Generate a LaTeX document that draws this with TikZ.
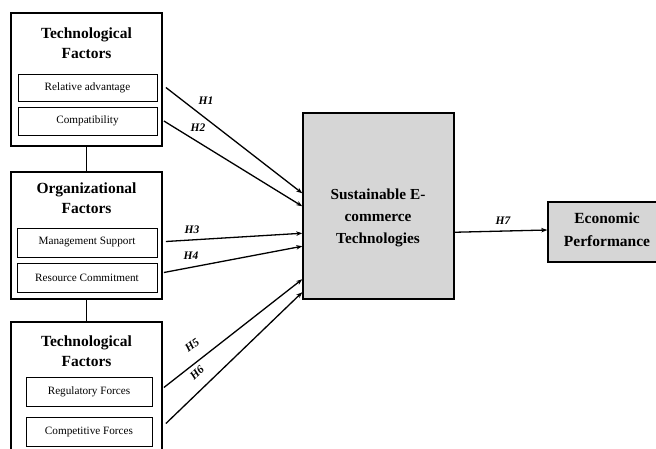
\documentclass[tikz,border=0pt]{standalone}
\usepackage{fontspec}
\setmainfont{Liberation Serif}
\usetikzlibrary{calc,arrows.meta}
\begin{document}
\begin{tikzpicture}[x=1pt,y=-1pt,
  outerbox/.style={draw,line width=1.8pt,minimum width=151pt,inner sep=0pt},
  innerbox/.style={draw,line width=0.9pt,inner sep=0pt,font=\fontsize{11.2}{13}\selectfont},
  title/.style={font=\bfseries\fontsize{15.5}{20}\selectfont,align=center,inner sep=0pt},
  bigbox/.style={draw,line width=1.5pt,fill=black!16,inner sep=0pt},
  bigtext/.style={font=\bfseries\fontsize{15.3}{22}\selectfont,align=center,inner sep=0pt},
  arr/.style={line width=1.3pt,-{Stealth[length=6pt,width=4.5pt]}},
  lab/.style={font=\bfseries\itshape\fontsize{11.5}{13}\selectfont,inner sep=0pt}]
\useasboundingbox (0,0) rectangle (656,449);
% outer boxes
\node[outerbox,minimum height=133pt] (tf1) at (86.5,79.5) {};
\node[outerbox,minimum height=127pt] (org) at (86.5,235.5) {};
\node[outerbox,minimum height=150pt] (tf2) at (86.5,397) {};
% titles
\node[title] (t1) at (86.5,43) {Technological\\Factors};
\node[title] (t2) at (86.5,198) {Organizational\\Factors};
\node[title] (t3) at (86.5,351) {Technological\\Factors};
% inner boxes
\node[innerbox,minimum width=139pt,minimum height=27pt] (ra) at (87.5,87.5) {Relative advantage};
\node[innerbox,minimum width=139pt,minimum height=28pt] (comp) at (87.5,121) {Compatibility};
\node[innerbox,minimum width=140pt,minimum height=29pt] (ms) at (87,242.5) {Management Support};
\node[innerbox,minimum width=140pt,minimum height=29pt] (rc) at (87,277.5) {Resource Commitment};
\node[innerbox,minimum width=126pt,minimum height=29pt] (rf) at (89,391.5) {Regulatory Forces};
\node[innerbox,minimum width=126pt,minimum height=29pt] (cf) at (89,431.5) {Competitive Forces};
% connectors between factor boxes
\draw[line width=1.5pt] (tf1.south) -- (org.north);
\draw[line width=1.5pt] (org.south) -- (tf2.north);
% central box
\node[bigbox,minimum width=151pt,minimum height=186pt] (set) at (378.5,206) {};
\node[bigtext] (sett) at (378,218) {Sustainable E-\\commerce\\Technologies};
% economic performance
\node[bigbox,minimum width=118pt,minimum height=60pt] (ep) at (607,232) {};
\node[bigtext,font=\bfseries\fontsize{15.5}{23}\selectfont] (ept) at (607,230) {Economic\\Performance};
% arrows
\draw[arr] ($(tf1.east|-ra.east)+(3,0)$) -- ($(set.north west)+(0,81)$);
\draw[arr] ($(tf1.east|-comp.east)+(1,0)$) -- ($(set.north west)+(0,94)$);
\draw[arr] ($(org.east|-ms.east)+(3,-1)$) -- ($(set.north west)+(0,121)$);
\draw[arr] ($(org.east|-rc.east)+(1,-5)$) -- ($(set.north west)+(0,134)$);
\draw[arr] ($(tf2.east|-rf.east)+(1,-4)$) -- ($(set.north west)+(0,167)$);
\draw[arr] ($(tf2.east|-cf.east)+(3,-8)$) -- ($(set.north west)+(0,180)$);
\draw[arr] ($(set.north east)+(0,120)$) -- ($(ep.west)+(0,-2)$);
% labels
\node[lab] (h1) at (206,101) {H1};
\node[lab] (h2) at (198,128) {H2};
\node[lab] (h3) at (192,230) {H3};
\node[lab] (h4) at (191,256) {H4};
\node[lab,rotate=37] (h5) at (192,345) {H5};
\node[lab,rotate=43] (h6) at (197,373) {H6};
\node[lab] (h7) at (503,221) {H7};
\end{tikzpicture}
\end{document}
